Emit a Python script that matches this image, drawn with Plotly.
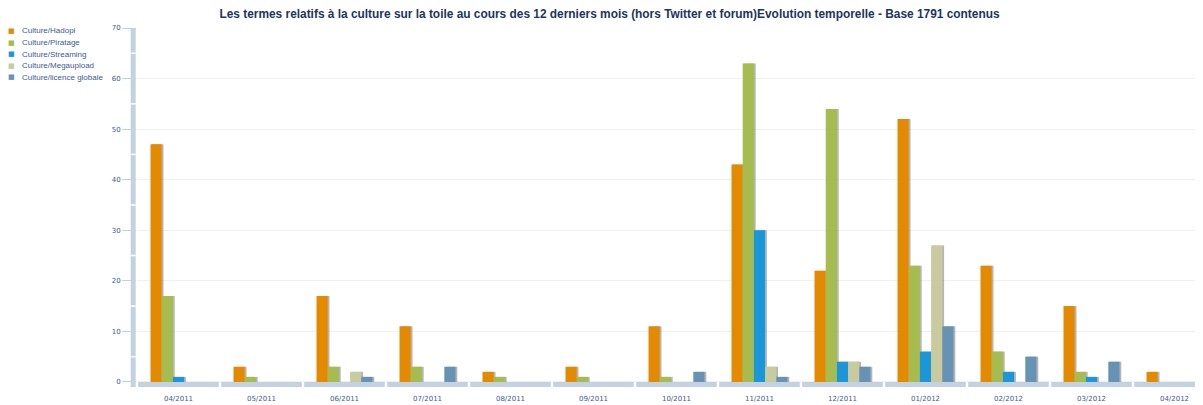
import plotly.graph_objects as go

months = ["04/2011", "05/2011", "06/2011", "07/2011", "08/2011", "09/2011", "10/2011",
          "11/2011", "12/2011", "01/2012", "02/2012", "03/2012", "04/2012"]

hadopi = [47, 3, 17, 11, 2, 3, 11, 43, 22, 52, 23, 15, 2]
piratage = [17, 1, 3, 3, 1, 1, 1, 63, 54, 23, 6, 2, 0]
streaming = [1, 0, 0, 0, 0, 0, 0, 30, 4, 6, 2, 1, 0]
megaupload = [0, 0, 2, 0, 0, 0, 0, 3, 4, 27, 0, 0, 0]
licence_globale = [0, 0, 1, 3, 0, 0, 2, 1, 3, 11, 5, 4, 0]

series_names = ["Culture/Hadopi", "Culture/Piratage", "Culture/Streaming",
                "Culture/Megaupload", "Culture/licence globale"]
series_values = [hadopi, piratage, streaming, megaupload, licence_globale]
series_colors = ["#E38A00", "#A6BC4F", "#1B96D9", "#C9CB9E", "#6693B3"]

y_ticks = [0, 10, 20, 30, 40, 50, 60, 70]
band_notches = [5, 15, 25, 35, 45, 55, 65]

# the page body adds an 8px margin, so the figure is 8px smaller and shifted
OFF = 8
W, H = 1203 - OFF, 405 - OFF
ML, MR, MT, MB = 137 - OFF, 0, 28 - OFF, 18
plot_w = W - ML - MR
plot_h = H - MT - MB
cat_px = 83.0
bar_px = 11.2
edge_px = (cat_px - 5 * bar_px) / 2

label_color = "#3A5A9E"
band_color = "#C2D2E2"
tick_font = "DejaVu Sans, Verdana, sans-serif"
legend_font = "Liberation Sans, Arial, sans-serif"

x_idx = list(range(len(months)))
bar_w = bar_px / cat_px

fig = go.Figure()

# shadows (drawn first, underneath the bars)
for k, vals in enumerate(series_values):
    fig.add_trace(go.Bar(
        x=x_idx, y=vals, width=bar_w, offset=-0.5 + edge_px / cat_px + k * bar_w + 1.8 / cat_px,
        marker=dict(color="rgba(60,60,60,0.38)", line=dict(width=0)),
        showlegend=False, hoverinfo="skip"
    ))

for k, (name, vals, color) in enumerate(zip(series_names, series_values, series_colors)):
    fig.add_trace(go.Bar(
        x=x_idx, y=vals, name=name, width=bar_w,
        offset=-0.5 + edge_px / cat_px + k * bar_w,
        marker=dict(color=color, line=dict(width=0)),
        showlegend=False
    ))

shapes = []
# x axis band, one segment per category
for i in x_idx:
    shapes.append(dict(type="rect", xref="x", yref="y",
                       x0=i - 0.5 + 1.2 / cat_px, x1=i + 0.5 - 1.2 / cat_px, y0=-1, y1=0,
                       fillcolor=band_color, line=dict(width=0), layer="above"))
# y axis band
shapes.append(dict(type="rect", xref="paper", yref="y",
                   x0=-6.3 / plot_w, x1=-1.3 / plot_w, y0=-1, y1=70,
                   fillcolor=band_color, line=dict(width=0), layer="above"))
for v in band_notches:
    shapes.append(dict(type="line", xref="paper", yref="y",
                       x0=-6.3 / plot_w, x1=-1.3 / plot_w, y0=v, y1=v,
                       line=dict(color="white", width=1.5), layer="above"))

# legend drawn as annotations (page pixel positions)
annotations = []
for k, (name, color) in enumerate(zip(series_names, series_colors)):
    ypix = 31 + k * 11.6 - OFF
    yp = 1 - (ypix - MT) / plot_h
    annotations.append(dict(text="■", x=(11.7 - OFF - ML) / plot_w, y=yp, xref="paper", yref="paper",
                            xanchor="center", yanchor="middle", showarrow=False,
                            font=dict(size=7, color=color, family=tick_font)))
    annotations.append(dict(text=name, x=(20 - OFF - ML) / plot_w, y=yp, xref="paper", yref="paper",
                            xanchor="left", yanchor="middle", showarrow=False,
                            font=dict(size=8, color=label_color, family=legend_font)))

fig.update_layout(
    width=W, height=H,
    margin=dict(l=ML, r=MR, t=MT, b=MB),
    paper_bgcolor="white", plot_bgcolor="white",
    barmode="overlay",
    title=dict(text="Les termes relatifs à la culture sur la toile au cours des 12 derniers mois "
                    "(hors Twitter et forum)Evolution temporelle - Base 1791 contenus",
               x=(609.5 - OFF) / W, xanchor="center", y=1 - (14 - OFF) / H, yanchor="middle",
               font=dict(family="Liberation Sans, Arial, sans-serif",
                         size=11.9, color="#1B365F", weight="bold")),
    shapes=shapes,
    annotations=annotations,
    showlegend=False,
)

fig.update_xaxes(
    range=[-0.5, -0.5 + plot_w / cat_px],
    tickmode="array", tickvals=x_idx, ticktext=months,
    showgrid=False, zeroline=False, showline=False, ticks="",
    ticklabelstandoff=6,
    tickfont=dict(size=7, color=label_color, family=tick_font),
)
fig.update_yaxes(
    range=[-1, 70], tickmode="array", tickvals=y_ticks,
    showgrid=True, gridcolor="#F0F0F0", gridwidth=1,
    zeroline=False, showline=False,
    ticks="outside", ticklen=14, tickcolor=band_color, tickwidth=1,
    tickfont=dict(size=7, color=label_color, family=tick_font),
)

fig.write_html("out.html")
